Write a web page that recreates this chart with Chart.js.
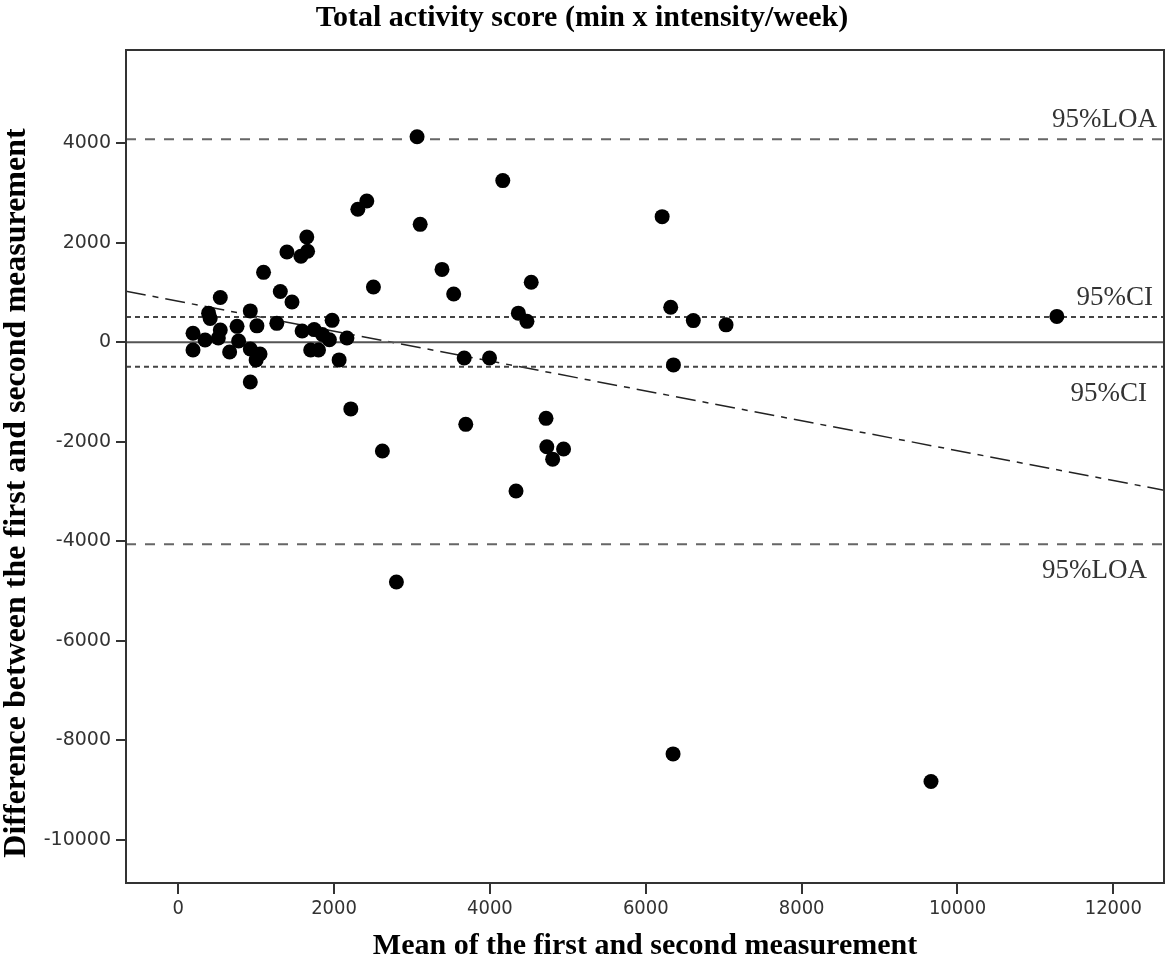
<!DOCTYPE html>
<html>
<head>
<meta charset="utf-8">
<script src="https://cdn.jsdelivr.net/npm/chart.js@4.4.1/dist/chart.umd.min.js"></script>
<style>
  body { margin: 0; background: #fff; }
</style>
</head>
<body>
<canvas id="blandAltman" width="1166" height="967"></canvas>
<script>
const meanValues = [190, 190, 345, 390, 410, 540, 540, 515, 660, 755, 775, 925, 925, 925, 1010, 1050,
  1000, 1095, 1265, 1310, 1460, 1395, 1575, 1660, 1650, 1590, 1745, 1850, 1940, 1975, 2165, 1700,
  1800, 2065, 2215, 2305, 2420, 2505, 2620, 2800, 3065, 3105, 3385, 3535, 3670, 3690, 3995, 4165,
  4335, 4365, 4475, 4530, 4720, 4730, 4805, 4945, 6210, 6320, 6355, 6350, 6610, 7030, 9660, 11275];
const diffValues = [180, -155, 45, 585, 480, 900, 245, 85, -195, 320, 25, 630, -135, -800, 330, -235,
  -355, 1405, 380, 1020, 810, 1815, 1730, 1830, 2115, 225, 255, 155, 50, 440, 85, -155,
  -155, -355, -1340, 2675, 2840, 1110, -2185, -4820, 4130, 2370, 1465, 970, -315, -1650, -315, 3250,
  -2990, 585, 420, 1205, -1530, -2100, -2350, -2145, 2525, 705, -455, -8275, 435, 350, -8830, 520];

// tick labels
const xTickValues = [0, 2000, 4000, 6000, 8000, 10000, 12000];
const yTickValues = [-10000, -8000, -6000, -4000, -2000, 0, 2000, 4000];

// horizontal reference lines
const loaValues = [4080, -4060];
const ciValues = [510, -490];
const meanDiff = 0;

// dash-dot regression line, ends read at the plot edges
const regX = [-670, 12650];
const regY = [1025, -2975];

const xMin = -670, xMax = 12650;
const yMin = -10870, yMax = 5875;

const serif = "'Liberation Serif', 'Times New Roman', serif";

const points = meanValues.map((m, i) => ({ x: m, y: diffValues[i] }));
const hLine = v => [{ x: xMin, y: v }, { x: xMax, y: v }];

const refLine = (v, color, width, dash) => ({
  type: "line",
  data: hLine(v),
  borderColor: color,
  borderWidth: width,
  borderDash: dash,
  pointRadius: 0,
  fill: false,
});

// text next to the LOA / CI lines
const lineLabels = [
  { text: "95%LOA", value: loaValues[0], above: true, right: 1157 },
  { text: "95%CI", value: ciValues[0], above: true, right: 1153 },
  { text: "95%CI", value: ciValues[1], above: false, right: 1147 },
  { text: "95%LOA", value: loaValues[1], above: false, right: 1147 },
];

const extras = {
  id: "extras",
  afterDatasetsDraw(chart) {
    const { ctx, chartArea, scales } = chart;
    ctx.save();
    ctx.font = "27px " + serif;
    ctx.fillStyle = "#333";
    ctx.textAlign = "right";
    ctx.textBaseline = "alphabetic";
    lineLabels.forEach(l => {
      const y = scales.y.getPixelForValue(l.value);
      ctx.fillText(l.text, l.right, l.above ? y - 12 : y + 34);
    });
    // plot frame
    ctx.strokeStyle = "#333";
    ctx.lineWidth = 2;
    ctx.strokeRect(chartArea.left, chartArea.top, chartArea.width, chartArea.height);
    // y axis title
    ctx.translate(17, 493);
    ctx.rotate(-Math.PI / 2);
    ctx.font = "bold 32px " + serif;
    ctx.fillStyle = "#000";
    ctx.textAlign = "center";
    ctx.textBaseline = "middle";
    ctx.fillText("Difference between the first and second measurement", 0, 0);
    ctx.restore();
  },
};

const config = {
  type: "scatter",
  data: {
    datasets: [
      {
        data: points,
        backgroundColor: "#000",
        borderWidth: 0,
        pointRadius: 7.5,
      },
      refLine(meanDiff, "#555", 2, []),
      refLine(ciValues[0], "#444", 2, [5, 4]),
      refLine(ciValues[1], "#444", 2, [5, 4]),
      refLine(loaValues[0], "#666", 2, [10, 9]),
      refLine(loaValues[1], "#666", 2, [10, 9]),
      {
        type: "line",
        data: regX.map((x, i) => ({ x: x, y: regY[i] })),
        borderColor: "#222",
        borderWidth: 1.5,
        borderDash: [20, 7, 6, 7],
        pointRadius: 0,
        fill: false,
      },
    ],
  },
  options: {
    responsive: false,
    animation: false,
    layout: { autoPadding: false, padding: { left: 0, right: 2, top: 0, bottom: 0 } },
    plugins: {
      legend: { display: false },
      tooltip: { enabled: false },
      title: {
        display: true,
        text: "Total activity score (min x intensity/week)",
        color: "#000",
        font: { family: serif, size: 30, weight: "bold" },
        padding: { top: 0, bottom: 14 },
      },
    },
    scales: {
      x: {
        type: "linear",
        min: xMin,
        max: xMax,
        afterFit: s => { s.height = 84; s.paddingLeft = 0; s.paddingRight = 0; },
        afterBuildTicks: s => { s.ticks = xTickValues.map(v => ({ value: v })); },
        ticks: {
          color: "#333",
          padding: 3,
          callback: v => String(v),
          font: { family: "'Liberation Sans Narrow', 'DejaVu Sans Condensed', sans-serif", size: 20 },
        },
        grid: { drawOnChartArea: false, drawTicks: true, tickLength: 11, color: "#333", lineWidth: 2 },
        border: { display: true, color: "#333", width: 2 },
        title: {
          display: true,
          text: "Mean of the first and second measurement",
          color: "#000",
          font: { family: serif, size: 30, weight: "bold" },
          padding: { top: 0, bottom: 3 },
        },
      },
      y: {
        type: "linear",
        min: yMin,
        max: yMax,
        afterFit: s => { s.width = 126; s.paddingTop = 0; s.paddingBottom = 0; },
        afterBuildTicks: s => { s.ticks = yTickValues.map(v => ({ value: v })); },
        ticks: {
          color: "#333",
          padding: 5,
          callback: v => String(v),
          font: { family: "'DejaVu Sans', sans-serif", size: 19 },
        },
        grid: { drawOnChartArea: false, drawTicks: true, tickLength: 10, color: "#333", lineWidth: 2 },
        border: { display: true, color: "#333", width: 2 },
      },
    },
  },
  plugins: [extras],
};

var ctx = document.getElementById("blandAltman").getContext("2d");
var chart = new Chart(ctx, config);
</script>
</body>
</html>
